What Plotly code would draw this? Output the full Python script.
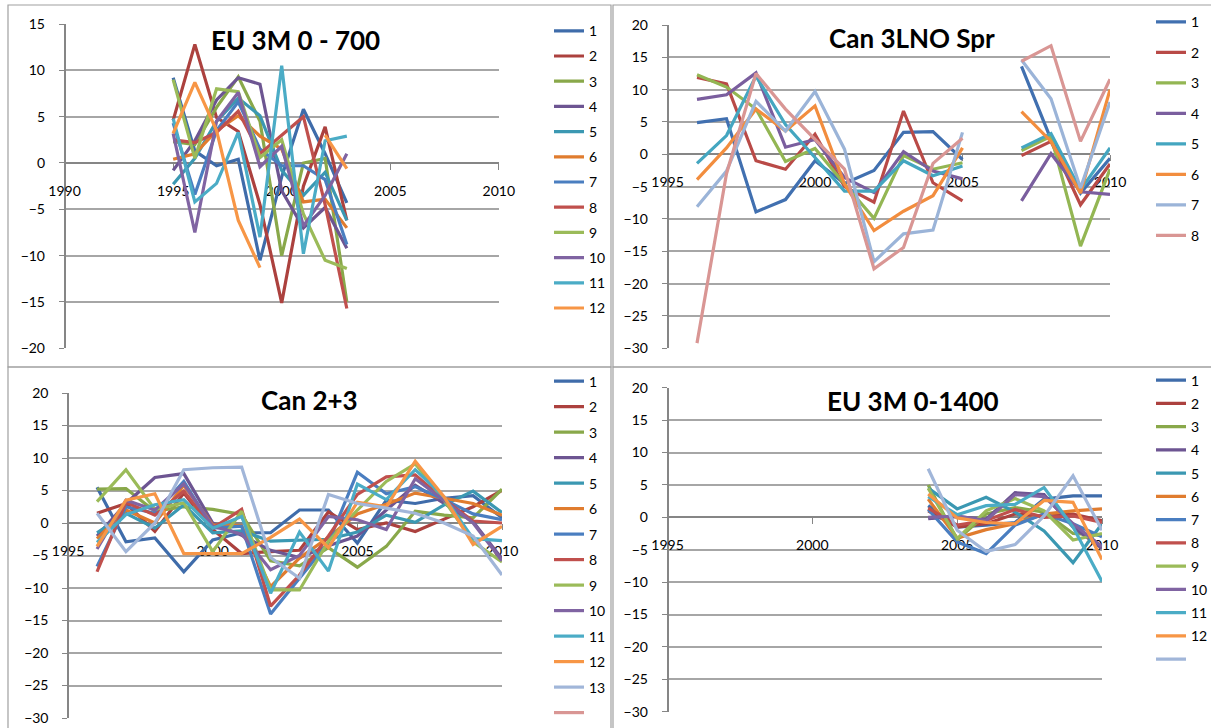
import plotly.graph_objects as go

W, H = 1211, 728

# ---------------- EU 3M 0 - 700 (1995-2003) ----------------
eu700_years = [1995, 1996, 1997, 1998, 1999, 2000, 2001, 2002, 2003]
eu700_names = ["1", "2", "3", "4", "5", "6", "7", "8", "9", "10", "11", "12"]
eu700_values = [
    [9.2, 1.3, -0.3, 0.4, -10.5, -1.5, 5.8, 1.0, -4.3],
    [4.6, 12.8, 4.9, 3.4, -4.5, -15.1, -2.5, 3.9, -6.2],
    [2.3, 2.0, 6.0, 9.3, 4.5, -10.0, 0.0, 0.5, -15.0],
    [-0.8, 2.4, 6.8, 9.2, 8.5, -3.0, -7.0, -4.8, -9.2],
    [-2.3, 0.5, 4.5, 7.0, 5.1, -0.8, -3.5, -1.0, -6.2],
    [0.4, 1.0, 3.5, 5.1, 2.9, 1.5, -4.2, -3.9, -7.0],
    [4.3, -3.4, 3.5, 6.6, 1.5, -0.3, -0.3, -1.8, -8.8],
    [2.5, 2.2, 3.3, 5.6, 1.0, 3.0, 5.0, -4.5, -15.7],
    [9.0, 0.5, 8.0, 7.7, 0.6, 2.5, -5.5, -10.5, -11.4],
    [3.2, -7.5, 4.5, 7.6, -0.4, 1.8, -6.8, -3.5, 1.0],
    [4.8, -4.2, -2.2, 3.3, -8.0, 10.5, -9.8, 2.4, 2.9],
    [3.2, 8.7, 3.5, -6.2, -11.3, None, None, 3.0, -0.6],
]

# ---------------- Can 3LNO Spr (1996-2010, no 2006 survey) ----------------
can3lno_years = list(range(1996, 2011))
can3lno_names = ["1", "2", "3", "4", "5", "6", "7", "8"]
can3lno_values = [
    [4.9, 5.5, -8.9, -7.0, -1.0, -4.5, -2.5, 3.4, 3.5, -0.8, None, 13.6, 2.3, -6.0, -0.6],
    [11.9, 10.9, -1.0, -2.3, 3.1, -5.0, -7.4, 6.7, -4.4, -7.2, None, -0.2, 2.0, -7.8, -1.5],
    [12.3, 10.4, 7.0, -1.1, 0.9, -4.6, -9.9, -0.2, -2.3, -1.3, None, 0.6, 2.8, -14.2, -2.3],
    [8.5, 9.2, 12.6, 1.1, 2.3, -3.6, -5.9, 0.4, -2.6, -3.8, None, -7.2, 0.1, -5.8, -6.2],
    [-1.4, 2.9, 12.1, 4.6, -0.5, -5.7, -5.7, -1.0, -3.3, -1.8, None, 1.0, 3.2, -5.5, 1.0],
    [-3.9, 1.0, 7.0, 3.6, 7.5, -4.6, -11.8, -8.8, -6.4, 1.0, None, 6.6, 2.0, -6.0, 10.0],
    [-8.1, -2.6, 8.2, 3.6, 9.7, 0.8, -16.6, -12.3, -11.7, 3.4, None, 14.6, 8.6, -5.2, 8.1],
    [-29.2, -3.0, 12.5, 7.0, 2.3, -2.3, -17.7, -14.4, -1.4, 2.5, None, 14.4, 16.8, 2.0, 11.6],
]

# ---------------- Can 2+3 (1996-2010) ----------------
can23_years = list(range(1996, 2011))
can23_names = ["1", "2", "3", "4", "5", "6", "7", "8", "9", "10", "11", "12", "13", " "]
can23_values = [
    [5.5, -2.9, -2.3, -7.5, -2.6, -1.5, -1.5, 2.0, 2.0, -3.1, 3.5, 3.0, 3.8, 4.2, 0.8],
    [1.5, 3.0, -1.3, 4.6, -1.0, -4.7, -4.4, -4.2, 1.7, -1.0, 0.0, -1.3, 0.6, 2.5, 5.0],
    [5.2, 5.3, 1.8, 2.5, 2.1, 1.3, -5.8, -6.6, -3.8, -6.8, -3.6, 1.8, 1.2, 0.8, 5.2],
    [-2.0, 3.0, 7.0, 7.6, 0.0, -1.9, -4.2, -5.3, -3.5, -2.0, 2.0, 5.8, 3.0, 0.2, -5.5],
    [-1.5, 1.5, -0.8, 2.8, -1.5, -1.2, -2.8, -2.7, -2.5, -1.4, 1.2, 0.1, 2.8, 4.9, 1.6],
    [-2.4, 2.0, 0.0, 5.8, -0.3, -0.4, -9.8, -5.4, -2.2, 1.4, 2.9, 4.6, 3.8, 3.0, 1.2],
    [-6.7, 2.5, 1.5, 6.4, -0.8, -0.5, -14.0, -8.5, -3.0, 7.8, 4.5, 5.6, 3.6, 1.4, 0.5],
    [-7.5, 3.2, 1.2, 4.9, -0.8, 2.1, -12.8, -8.0, -2.0, 4.4, 7.1, 7.4, 3.6, 0.3, 0.0],
    [3.3, 8.2, 2.1, 3.1, -4.4, 1.8, -10.3, -10.3, -2.8, 2.0, 6.4, 9.1, 3.5, -2.9, -6.0],
    [-4.0, 3.5, 2.0, 6.0, -0.5, -1.7, -7.2, -5.0, 1.0, 0.5, -1.0, 6.8, 3.5, 0.0, -5.8],
    [-3.0, 1.3, 2.8, 3.6, -0.8, 1.0, -10.8, -1.4, -7.4, 6.0, 3.6, 8.2, 4.0, -2.4, -2.7],
    [-3.6, 3.5, 4.5, -4.7, -4.7, -4.7, -2.2, 0.6, -3.8, 3.2, 2.5, 9.5, 4.0, -3.3, -0.5],
    [1.5, -4.4, 0.0, 8.2, 8.5, 8.6, -5.3, -8.5, 4.4, 3.0, 2.3, 1.5, 0.0, -2.0, -8.0],
    [None] * 15,
]

# ---------------- EU 3M 0-1400 (2004-2010) ----------------
eu1400_years = [2004, 2005, 2006, 2007, 2008, 2009, 2010]
eu1400_names = ["1", "2", "3", "4", "5", "6", "7", "8", "9", "10", "11", "12", " "]
eu1400_values = [
    [1.8, -1.5, -1.2, -0.8, 2.8, 3.3, 3.3],
    [1.0, -1.5, -1.0, 0.5, 0.2, 0.5, -0.5],
    [5.0, -3.5, 0.5, 1.5, 0.8, -2.5, -2.8],
    [-0.2, 0.1, -0.3, 3.8, 3.5, -1.5, -4.8],
    [4.5, 1.3, 3.1, 0.8, -2.1, -7.0, -1.0],
    [2.8, -3.2, -1.9, -1.0, 0.5, 1.0, 1.3],
    [1.2, -3.8, -5.6, -1.2, 0.5, -1.0, -3.0],
    [1.4, -1.2, -0.5, 1.2, 0.0, 0.2, -0.8],
    [4.5, -3.3, 1.0, 2.9, 1.0, -3.5, -2.5],
    [0.0, 0.2, -0.5, 3.5, 3.2, -1.0, -4.5],
    [3.2, 0.4, 1.8, 2.0, 4.6, -1.5, -9.9],
    [3.6, -0.1, -0.8, -1.0, 2.6, 2.3, -6.5],
    [7.5, -2.0, -5.3, -4.2, 0.2, 6.4, -2.0],
]

# Office-style series colours
palette_long = ["#3F6CAA", "#AC413E", "#89A84A", "#6D5592", "#3B98B2", "#E07C2F",
                "#4A7EC0", "#C0504D", "#9BBB59", "#8064A2", "#4BACC6", "#F79646",
                "#A1B6D9", "#D99694"]
palette_short = ["#4170B0", "#B94A47", "#93B653", "#7A5E9E", "#44A6C0", "#F28D3E",
                 "#9BB4D8", "#D99694"]

FONT = "Lato, 'Liberation Sans', sans-serif"
GRID = "#A6A6A6"
AXIS = "#868686"


def px_x(v):
    return v / W


def px_y(v):
    return 1 - v / H


# panel geometry in pixels: plot left, right, top, bottom
panels = [
    dict(title="EU 3M 0 - 700", years=eu700_years, names=eu700_names, values=eu700_values,
         colors=palette_long, box=(64.6, 498.8, 24.0, 348.3), xr=(1990, 2010), yr=(-20, 15),
         title_xy=(295, 40), leg_xy=(549, 15.2), gap=4.0, frame=(8, 611, 5, 367)),
    dict(title="Can 3LNO Spr", years=can3lno_years, names=can3lno_names, values=can3lno_values,
         colors=palette_short, box=(667.5, 1110.0, 25.0, 348.3), xr=(1995, 2010), yr=(-30, 20),
         title_xy=(912, 38), leg_xy=(1151, 6.2), gap=9.3, frame=(613, 1216, 5, 367)),
    dict(title="Can 2+3", years=can23_years, names=can23_names, values=can23_values,
         colors=palette_long, box=(68.1, 502.0, 393.0, 718.0), xr=(1995, 2010), yr=(-30, 20),
         title_xy=(310, 400), leg_xy=(549, 365.5), gap=4.3, frame=(8, 611, 367, 735)),
    dict(title="EU 3M 0-1400", years=eu1400_years, names=eu1400_names, values=eu1400_values,
         colors=palette_long, box=(667.5, 1102.0, 387.7, 711.7), xr=(1995, 2010), yr=(-30, 20),
         title_xy=(913, 401), leg_xy=(1151, 364.5), gap=2.05, frame=(613, 1216, 367, 735)),
]

fig = go.Figure()
layout = dict(
    width=W, height=H, autosize=False,
    margin=dict(l=0, r=0, t=0, b=0, autoexpand=False),
    paper_bgcolor="white", plot_bgcolor="white",
    font=dict(family=FONT, size=14, color="black"),
    annotations=[], shapes=[],
)

for i, p in enumerate(panels, start=1):
    sfx = "" if i == 1 else str(i)
    xa, ya = "x" + sfx, "y" + sfx
    leg = "legend" + sfx
    l, r, t, b = p["box"]
    xdom = [px_x(l), px_x(r)]
    ydom = [px_y(b), px_y(t)]
    y0, y1 = p["yr"]
    # horizontal axis crosses the value axis at zero
    zero_pos = ydom[0] + (0 - y0) / (y1 - y0) * (ydom[1] - ydom[0])

    for k, (name, vals) in enumerate(zip(p["names"], p["values"])):
        fig.add_trace(go.Scatter(
            x=p["years"], y=vals, name=name, mode="lines",
            line=dict(color=p["colors"][k], width=3.2),
            xaxis=xa, yaxis=ya, legend=leg, legendgroup=f"p{i}s{k}",
            connectgaps=False, hoverinfo="x+y+name",
        ))

    layout["xaxis" + sfx] = dict(
        domain=xdom, range=list(p["xr"]), anchor="free", position=zero_pos,
        tick0=p["xr"][0], dtick=5, showgrid=False, zeroline=False,
        showline=True, linecolor=AXIS, linewidth=1.6,
        ticks="outside", ticklen=6, tickcolor=AXIS, tickwidth=1.2,
        ticklabelstandoff=9, layer="below traces",
        tickfont=dict(family=FONT, size=14, color="black"),
    )
    layout["yaxis" + sfx] = dict(
        domain=ydom, range=[y0, y1], anchor="free", position=xdom[0],
        dtick=5, showgrid=True, gridcolor=GRID, gridwidth=1.5, zeroline=False,
        showline=True, linecolor=AXIS, linewidth=1.6,
        ticks="outside", ticklen=5, tickcolor=AXIS, tickwidth=1.2,
        ticklabelstandoff=11, layer="below traces",
        tickfont=dict(family=FONT, size=14, color="black"),
    )
    layout[leg] = dict(
        x=px_x(p["leg_xy"][0]), y=px_y(p["leg_xy"][1]), xanchor="left", yanchor="top",
        bgcolor="rgba(0,0,0,0)", borderwidth=0, traceorder="grouped",
        tracegroupgap=p["gap"], font=dict(family=FONT, size=14, color="black"),
    )
    layout["annotations"].append(dict(
        text=p["title"], xref="paper", yref="paper",
        x=px_x(p["title_xy"][0]), y=px_y(p["title_xy"][1]),
        xanchor="center", yanchor="middle", showarrow=False,
        font=dict(family="Lato", size=26, color="black", weight="bold"),
    ))
    fl, fr, ft, fb = p["frame"]
    layout["shapes"].append(dict(
        type="rect", xref="paper", yref="paper",
        x0=px_x(fl), x1=px_x(fr), y0=px_y(fb), y1=px_y(ft),
        line=dict(color="#A0A0A0", width=1.2), layer="below",
    ))

fig.update_layout(**layout)
fig.write_html("out.html")
